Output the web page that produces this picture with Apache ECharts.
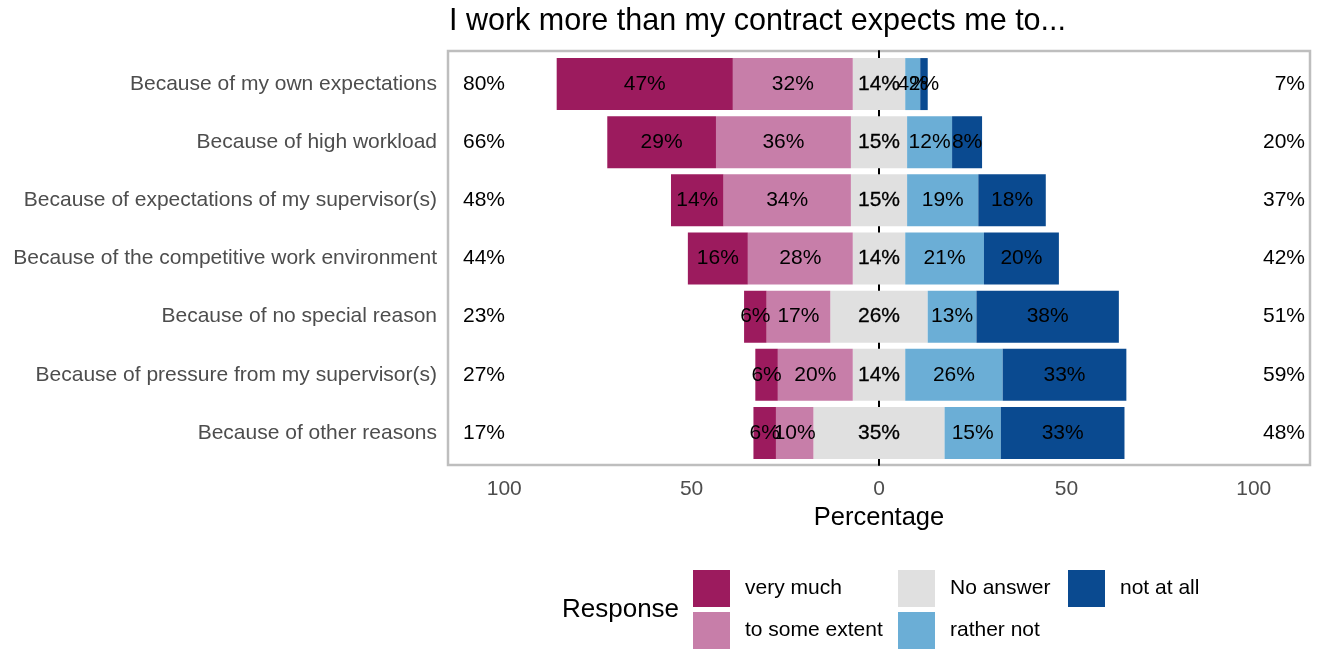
<!DOCTYPE html>
<html>
<head>
<meta charset="utf-8">
<title>I work more than my contract expects me to...</title>
<script src="https://cdn.jsdelivr.net/npm/echarts@6/dist/echarts.min.js"></script>
<style>
    html, body { margin: 0; padding: 0; background: #fff; }
    #content { width: 1323px; height: 650px; }
</style>
</head>
<body>
<div id="content"></div>
<script>
var fontName = "'Liberation Sans', Arial, sans-serif";

// categories (top to bottom)
var reasons = [
    "Because of my own expectations",
    "Because of high workload",
    "Because of expectations of my supervisor(s)",
    "Because of the competitive work environment",
    "Because of no special reason",
    "Because of pressure from my supervisor(s)",
    "Because of other reasons"
];

// percentages per answer
var veryMuch   = [47, 29, 14, 16, 6, 6, 6];
var someExtent = [32, 36, 34, 28, 17, 20, 10];
var noAnswer   = [14, 15, 15, 14, 26, 14, 35];
var ratherNot  = [4, 12, 19, 21, 13, 26, 15];
var notAtAll   = [2, 8, 18, 20, 38, 33, 33];

// totals printed at the two ends of each row
var lowTotal  = [80, 66, 48, 44, 23, 27, 17];
var highTotal = [7, 20, 37, 42, 51, 59, 48];

// colours
var cVeryMuch = "#9C1B5E";
var cSomeExtent = "#C77EA9";
var cNoAnswer = "#E0E0E0";
var cRatherNot = "#6BAED6";
var cNotAtAll = "#0A4A90";

// legend layout (one legend per key so they line up in columns)
var legendLayout = [
    { name: "very much", left: 693, top: 570 },
    { name: "to some extent", left: 693, top: 612 },
    { name: "No answer", left: 898, top: 570 },
    { name: "rather not", left: 898, top: 612 },
    { name: "not at all", left: 1068, top: 570 }
];

var smallFont = 21;

function segLabel(values) {
    return {
        show: true,
        position: "inside",
        color: "#000",
        fontSize: smallFont,
        fontFamily: fontName,
        textBorderWidth: 0,
        formatter: function(p) {
            return values[p.dataIndex] + "%";
        }
    };
}

function makeBar(name, values, sign, color, label) {
    return {
        name: name,
        type: "bar",
        stack: "likert",
        xAxisIndex: 0,
        yAxisIndex: 0,
        barWidth: 52,
        itemStyle: { color: color },
        label: label,
        emphasis: { disabled: true },
        data: values.map(function(v) { return sign * v; })
    };
}

var legends = legendLayout.map(function(item) {
    return {
        data: [item.name],
        left: item.left,
        top: item.top,
        padding: 0,
        orient: "horizontal",
        icon: "rect",
        itemWidth: 37,
        itemHeight: 37,
        selectedMode: false,
        textStyle: {
            fontSize: smallFont,
            fontFamily: fontName,
            color: "#000",
            padding: [4, 0, 0, 10]
        }
    };
});

var myChart = echarts.init(document.getElementById("content"));

myChart.setOption({
    animation: false,
    backgroundColor: "#fff",
    title: {
        text: "I work more than my contract expects me to...",
        left: 449,
        top: 6,
        padding: 0,
        textStyle: {
            fontSize: 30.5,
            fontWeight: "normal",
            color: "#000",
            fontFamily: fontName
        }
    },
    legend: legends,
    graphic: [{
        type: "text",
        left: 562,
        top: 597,
        style: {
            text: "Response",
            fill: "#000",
            font: "26px " + fontName
        }
    }],
    grid: [
        // bars
        { left: 448, right: 13, top: 55, bottom: 188 },
        // panel border + zero line
        { left: 448, right: 13, top: 51, bottom: 185, show: true,
          borderColor: "#BEBEBE", borderWidth: 2.5, backgroundColor: "transparent" }
    ],
    xAxis: [{
        type: "value",
        gridIndex: 0,
        min: -115,
        max: 115,
        axisLine: { show: false },
        axisTick: { show: false },
        splitLine: { show: false },
        axisLabel: {
            showMinLabel: false,
            showMaxLabel: false,
            color: "#4D4D4D",
            fontSize: smallFont,
            fontFamily: fontName,
            margin: 17,
            formatter: function(v) { return Math.abs(v); }
        },
        name: "Percentage",
        nameLocation: "middle",
        nameGap: 43,
        nameTextStyle: { fontSize: 25.5, color: "#000", fontFamily: fontName }
    }, {
        type: "value",
        gridIndex: 1,
        min: -115,
        max: 115,
        show: false
    }],
    yAxis: [{
        // reason names
        type: "category",
        gridIndex: 0,
        data: reasons,
        inverse: true,
        position: "left",
        axisLine: { show: false, onZero: false },
        axisTick: { show: false },
        splitLine: { show: false },
        axisLabel: { color: "#4D4D4D", fontSize: smallFont, fontFamily: fontName, margin: 11 }
    }, {
        // left totals
        type: "category",
        gridIndex: 0,
        data: reasons,
        inverse: true,
        position: "left",
        axisLine: { show: false, onZero: false },
        axisTick: { show: false },
        splitLine: { show: false },
        axisLabel: {
            inside: true,
            margin: 15,
            color: "#000",
            fontSize: smallFont,
            fontFamily: fontName,
            formatter: function(v, i) { return lowTotal[i] + "%"; }
        }
    }, {
        // right totals
        type: "category",
        gridIndex: 0,
        data: reasons,
        inverse: true,
        position: "right",
        axisLine: { show: false, onZero: false },
        axisTick: { show: false },
        splitLine: { show: false },
        axisLabel: {
            inside: true,
            margin: 5,
            color: "#000",
            fontSize: smallFont,
            fontFamily: fontName,
            formatter: function(v, i) { return highTotal[i] + "%"; }
        }
    }, {
        // zero line
        type: "category",
        gridIndex: 1,
        data: reasons,
        inverse: true,
        axisLine: { show: true, onZero: true, lineStyle: { color: "#000", width: 2 } },
        axisTick: { show: false },
        axisLabel: { show: false },
        splitLine: { show: false }
    }],
    series: [
        makeBar("No answer", noAnswer, -0.5, cNoAnswer, { show: false }),
        makeBar("to some extent", someExtent, -1, cSomeExtent, segLabel(someExtent)),
        makeBar("very much", veryMuch, -1, cVeryMuch, segLabel(veryMuch)),
        makeBar("No answer", noAnswer, 0.5, cNoAnswer, {
            show: true,
            position: "left",
            distance: 0,
            align: "center",
            color: "#000",
            fontSize: smallFont,
            fontFamily: fontName,
            textBorderColor: "#000",
            textBorderWidth: 0.3,
            formatter: function(p) { return noAnswer[p.dataIndex] + "%"; }
        }),
        makeBar("rather not", ratherNot, 1, cRatherNot, segLabel(ratherNot)),
        makeBar("not at all", notAtAll, 1, cNotAtAll, segLabel(notAtAll))
    ]
});
</script>
</body>
</html>
